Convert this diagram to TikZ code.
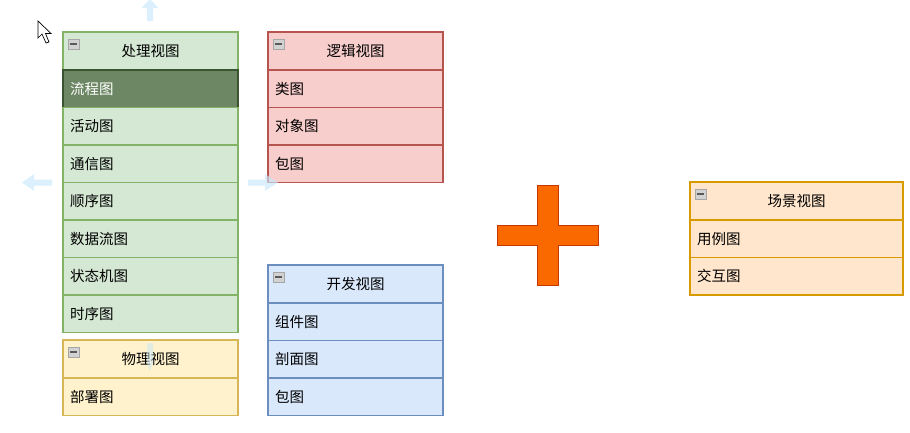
\documentclass[tikz,border=0pt]{standalone}
\usepackage{fontspec}
\newfontfamily\cjk{Noto Sans CJK SC}
\usepackage{tikz}
\usetikzlibrary{calc,positioning}
\definecolor{grnF}{HTML}{D5E8D4}\definecolor{grnD}{HTML}{82B366}
\definecolor{redF}{HTML}{F8CECC}\definecolor{redD}{HTML}{B85450}
\definecolor{bluF}{HTML}{DAE8FC}\definecolor{bluD}{HTML}{6C8EBF}
\definecolor{ylwF}{HTML}{FFF2CC}\definecolor{ylwD}{HTML}{D6B656}
\definecolor{orgF}{HTML}{FFE6CC}\definecolor{orgD}{HTML}{D79B00}
\definecolor{selF}{HTML}{6D8764}\definecolor{selD}{HTML}{3A5431}
\definecolor{plusF}{HTML}{FA6800}\definecolor{plusD}{HTML}{C73500}
\definecolor{hintC}{RGB}{200,232,250}
\tikzset{
  hdr/.style={rectangle, draw=#1D, fill=#1F, line width=1.3pt, outer sep=0pt, inner sep=0pt,
    minimum width=175pt, minimum height=38pt, font=\cjk\fontsize{14.5}{17}\selectfont},
  cell/.style={hdr=#1, minimum height=37.5pt, text width=161pt, align=left, inner xsep=7pt},
  minusicon/.style={fill=gray!35, draw=gray!70, line width=0.6pt},
  hint/.style={fill=hintC, opacity=0.65}
}

\begin{document}
\begin{tikzpicture}[x=1pt, y=-1pt]
	\useasboundingbox (0,0) rectangle (910,432);
	
	% processing view
	\node[hdr=grn] (hP) at (150.5,51) {处理视图};
	\node[cell=grn, fill=selF, draw=selD, text=white, below=0pt of hP] (pFlow) {流程图};
	\node[cell=grn, below=0pt of pFlow] (pAct) {活动图};
	\node[cell=grn, below=0pt of pAct] (pComm) {通信图};
	\node[cell=grn, below=0pt of pComm] (pSeq) {顺序图};
	\node[cell=grn, below=0pt of pSeq] (pData) {数据流图};
	\node[cell=grn, below=0pt of pData] (pState) {状态机图};
	\node[cell=grn, below=0pt of pState] (pTime) {时序图};
	
	% physical view
	\node[hdr=ylw] (hY) at (150.5,359) {物理视图};
	\node[cell=ylw, below=0pt of hY] (yDeploy) {部署图};
	
	% logical view
	\node[hdr=red] (hL) at (355.5,51) {逻辑视图};
	\node[cell=red, below=0pt of hL] (lClass) {类图};
	\node[cell=red, below=0pt of lClass] (lObj) {对象图};
	\node[cell=red, below=0pt of lObj] (lPkg) {包图};
	
	% development view
	\node[hdr=blu] (hD) at (355.5,284) {开发视图};
	\node[cell=blu, below=0pt of hD] (dComp) {组件图};
	\node[cell=blu, below=0pt of dComp] (dSect) {剖面图};
	\node[cell=blu, below=0pt of dSect] (dPkg) {包图};
	
	% scenario view
	\node[hdr=org, minimum width=213pt] (hS) at (796.5,201) {场景视图};
	\node[cell=org, text width=199pt, below=0pt of hS] (sCase) {用例图};
	\node[cell=org, text width=199pt, below=0pt of sCase] (sInter) {交互图};
	
	\foreach \h in {hP,hY,hL,hD,hS} {
		\draw[minusicon] ($(\h.north west)+(5,7)$) rectangle +(11,10);
		\draw[black!65, line width=1.6pt] ($(\h.north west)+(7,12)$) -- +(7,0);
	}
	
	% plus
	\draw[fill=plusF, draw=plusD, line width=0.8pt] (537,185) -- (558,185) -- (558,225) -- (598,225)
		-- (598,245) -- (558,245) -- (558,285) -- (537,285) -- (537,245) -- (497,245)
		-- (497,225) -- (537,225) -- cycle;
	
	% hover arrows
	\fill[hint] (147,21) -- (147,8) -- (141.5,8) -- (150,-1) -- (158.5,8) -- (153,8) -- (153,21) -- cycle;
	\fill[hint] (52,179.5) -- (34,179.5) -- (34,174) -- (22,182.5) -- (34,191) -- (34,185.5) -- (52,185.5) -- cycle;
	\fill[hint] (248,179.5) -- (265,179.5) -- (265,174) -- (278,182.5) -- (265,191) -- (265,185.5) -- (248,185.5) -- cycle;
	\fill[hint, opacity=0.5] (147,343) -- (153,343) -- (153,363) -- (150,371) -- (147,363) -- cycle;
	
	% cursor
	\draw[fill=white, line width=0.7pt, line join=miter] (38,21) -- (38,38) -- (42,34) -- (46,43)
		-- (49,42) -- (45.5,33.5) -- (51,33.5) -- cycle;
\end{tikzpicture}
\end{document}
